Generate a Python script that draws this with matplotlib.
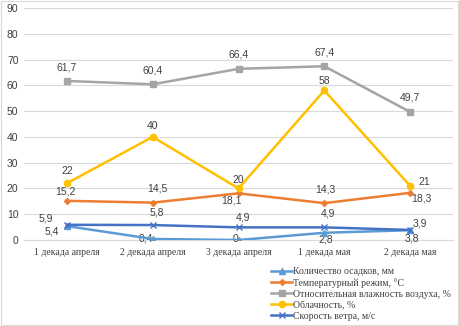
import matplotlib
matplotlib.use("Agg")
import matplotlib.pyplot as plt
from matplotlib.patches import Rectangle

categories = ["1 декада апреля", "2 декада апреля", "3 декада апреля", "1 декада мая", "2 декада мая"]
precip = [5.4, 0.4, 0, 2.8, 3.8]
temp = [15.2, 14.5, 18.1, 14.3, 18.3]
humidity = [61.7, 60.4, 66.4, 67.4, 49.7]
cloud = [22, 40, 20, 58, 21]
wind = [5.9, 5.8, 4.9, 4.9, 3.9]
series_names = ["Количество осадков, мм", "Температурный режим, °С",
                "Относительная влажность воздуха, %", "Облачность, %", "Скорость ветра, м/с"]
yticks = [0, 10, 20, 30, 40, 50, 60, 70, 80, 90]

fig = plt.figure(figsize=(4.59, 3.26), dpi=100)
ax = fig.add_axes([24/459, 1-240/326, (453-24)/459, (240-8)/326])
x = list(range(len(categories)))

num_font = dict(family="Liberation Sans", fontsize=7.5, color="#404040")
ser_font = dict(family="Liberation Serif", fontsize=7, color="#404040")

lp, = ax.plot(x, precip, color="#5B9BD5", marker="^", ms=4, lw=1.8, zorder=5)
lt, = ax.plot(x, temp, color="#ED7D31", marker="D", ms=3, lw=1.8, zorder=4)
lh, = ax.plot(x, humidity, color="#A5A5A5", marker="s", ms=4.5, lw=1.8, zorder=4)
lc, = ax.plot(x, cloud, color="#FFC000", marker="o", ms=4.5, lw=1.8, zorder=4)
lw_, = ax.plot(x, wind, color="#4472C4", marker="x", ms=4, lw=1.8, zorder=6)

def lab(xi, yi, txt, dx, dy, ha="center"):
    ax.annotate(txt, (xi, yi), xytext=(dx, dy), textcoords="offset points",
                ha=ha, va="center", **num_font)

fmt = lambda v: (("%g" % v).replace(".", ","))
for i, v in enumerate(humidity):
    lab(i, v, fmt(v), 0, 10)
cloud_off = [(0, 9), (0, 8), (0, 6), (0, 6.5), (10, 3)]
for i, v in enumerate(cloud):
    lab(i, v, fmt(v), *cloud_off[i])
temp_off = [(-1, 6.5), (3, 10.5), (-5, -5), (1, 10), (8, -4)]
for i, v in enumerate(temp):
    lab(i, v, fmt(v), *temp_off[i])
wind_off = [(-15, 4.5), (3, 9), (3, 7), (3, 10), (7, 5)]
for i, v in enumerate(wind):
    lab(i, v, fmt(v), *wind_off[i])
prec_off = [(-11, -4), (-5, 0), (-2, 1), (1, -5), (1, -6)]
for i, v in enumerate(precip):
    lab(i, v, fmt(v), *prec_off[i])

ax.set_xlim(-0.5, 4.5)
ax.set_ylim(0, 90)
ax.set_yticks(yticks)
ax.set_yticklabels([str(t) for t in yticks], **num_font)
ax.set_xticks(x)
ax.set_xticklabels(categories, **ser_font)
ax.tick_params(length=0, pad=4)
ax.tick_params(axis="x", pad=6)
ax.grid(axis="y", color="#D9D9D9", lw=0.8)
ax.set_axisbelow(True)
for s in ["top", "right", "left"]:
    ax.spines[s].set_visible(False)
ax.spines["bottom"].set_color("#D9D9D9")

leg = fig.legend([lp, lt, lh, lc, lw_], series_names, loc="upper left",
                 bbox_to_anchor=(271/459, 1-267/326), frameon=False,
                 prop={"family": "Liberation Serif", "size": 7},
                 handlelength=2.2, handletextpad=0.1, labelspacing=0.2,
                 borderaxespad=0, borderpad=0)
for t in leg.get_texts():
    t.set_color("#404040")

fig.patches.append(Rectangle((0.003, 0.003), 0.994, 0.994, transform=fig.transFigure,
                             fill=False, ec="#D9D9D9", lw=0.8))
fig.savefig("out.png", dpi=100)
